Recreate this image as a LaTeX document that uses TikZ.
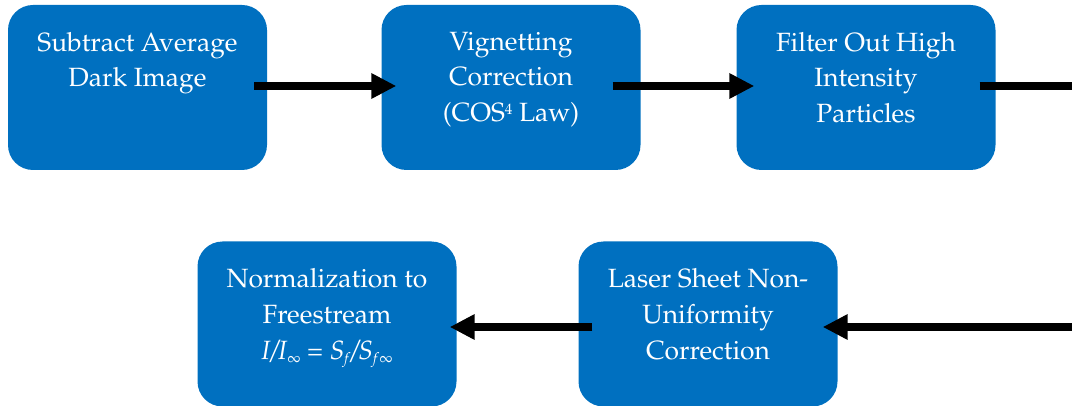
\documentclass[tikz,border=0pt]{standalone}
\usepackage[T1]{fontenc}
\usepackage{mathpazo}
\usetikzlibrary{arrows.meta}
\definecolor{boxblue}{HTML}{0070C0}
\newcommand{\mysub}[1]{\raisebox{-0.35ex}{\fontsize{15}{15}\selectfont #1}}
\begin{document}
\begin{tikzpicture}[x=1pt,y=-1pt,
  stepbox/.style={rectangle, rounded corners=25pt, fill=boxblue, draw=none,
    minimum width=259pt, minimum height=165pt, inner sep=0pt},
  steptext/.style={anchor=north, align=center, text=white, inner sep=0pt,
    font=\fontsize{26.4}{35.7}\selectfont},
  flow/.style={line width=8pt, draw=black, -{Triangle[length=25pt,width=24pt]}},
  flowline/.style={line width=8pt, draw=black}]
\useasboundingbox (0,0) rectangle (1072,406);
% boxes
\node[stepbox] (b1) at (137.5,87.5) {};
\node[stepbox] (b2) at (511,87.5) {};
\node[stepbox] (b3) at (866,87.5) {};
\node[stepbox] (b4) at (327,324) {};
\node[stepbox] (b5) at (708,324) {};
% texts
\node[steptext] (t1) at ([yshift=-27pt]b1.north) {Subtract Average\\Dark Image};
\node[steptext] (t2) at ([yshift=-27pt]b2.north) {Vignetting\\Correction\\(COS\raisebox{0.55ex}{\fontsize{15}{15}\selectfont 4} Law)};
\node[steptext] (t3) at ([yshift=-27pt]b3.north) {Filter Out High\\Intensity\\Particles};
\node[steptext] (t4) at ([yshift=-27pt]b4.north) {Normalization to\\Freestream\\\textit{I/I}\mysub{$\infty$} = \textit{S}\mysub{\textit{f}}\textit{/S}\mysub{\textit{f}$\infty$}};
\node[steptext] (t5) at ([yshift=-27pt]b5.north) {Laser Sheet Non-\\Uniformity\\Correction};
% free ends
\coordinate (e1) at (1072,86);
\coordinate (e2) at (1072,327);
% connectors
\draw[flow] ([xshift=-13pt,yshift=1.5pt]b1.east) -- ([xshift=15pt,yshift=1.5pt]b2.west);
\draw[flow] ([xshift=-28pt,yshift=1.5pt]b2.east) -- ([xshift=18pt,yshift=1.5pt]b3.west);
\draw[flowline] ([xshift=-16pt,yshift=1.5pt]b3.east) -- (e1);
\draw[flow] (e2) -- ([xshift=-15pt,yshift=-3pt]b5.east);
\draw[flow] ([xshift=14pt,yshift=-3pt]b5.west) -- ([xshift=-7pt,yshift=-3pt]b4.east);
\end{tikzpicture}
\end{document}
